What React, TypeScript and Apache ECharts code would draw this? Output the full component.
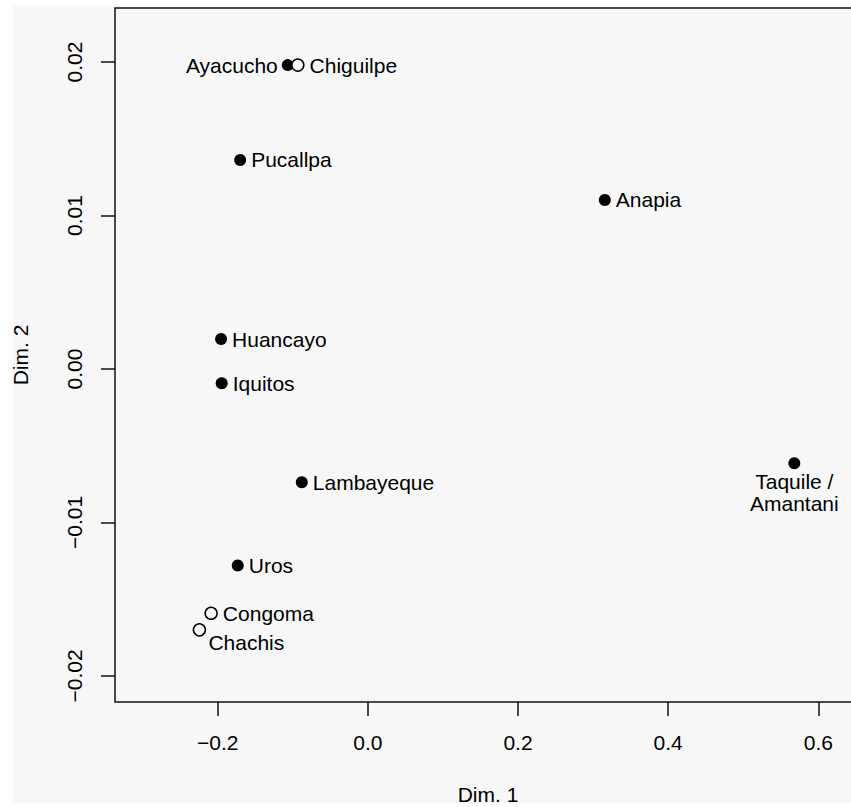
import React, { useEffect, useRef } from "react";
import * as echarts from "echarts";

const siteNames = [
  "Ayacucho",
  "Chiguilpe",
  "Pucallpa",
  "Anapia",
  "Huancayo",
  "Iquitos",
  "Lambayeque",
  "Taquile /\nAmantani",
  "Uros",
  "Congoma",
  "Chachis",
];
const dim1 = [-0.1067, -0.0933, -0.1701, 0.3156, -0.1955, -0.1947, -0.088, 0.568, -0.1733, -0.2088, -0.2244];
const dim2 = [0.0198, 0.0198, 0.01362, 0.01101, 0.00195, -0.00093, -0.00738, -0.00614, -0.01281, -0.01592, -0.017];
const filled = [true, false, true, true, true, true, true, true, true, false, false];
const labelSide = ["left", "right", "right", "right", "right", "right", "right", "bottom", "right", "right", "belowRight"];
const xTicks = [-0.2, 0, 0.2, 0.4, 0.6];
const yTicks = [-0.02, -0.01, 0, 0.01, 0.02];

const FONT = "'Liberation Sans', Arial, Helvetica, sans-serif";
const INK = "#111";
const BG = "#f7f7f7";

const fmt = (v: number, d: number) => (v < 0 ? "\u2212" : "") + Math.abs(v).toFixed(d);

function labelFor(side: string) {
  const base: any = { show: true, color: "#000", fontFamily: FONT, fontSize: 21, formatter: "{b}" };
  if (side === "left") return { ...base, position: "left", distance: 4 };
  if (side === "right") return { ...base, position: "right", distance: 5 };
  if (side === "bottom") return { ...base, position: "bottom", distance: 1, lineHeight: 22, align: "center" };
  return { ...base, position: "bottom", distance: 0, align: "left", verticalAlign: "middle", offset: [9, 6] };
}

export default function App() {
  const ref = useRef<HTMLDivElement>(null);
  useEffect(() => {
    if (!ref.current) return;
    const chart = echarts.init(ref.current, undefined, { renderer: "svg" });
    const data = siteNames.map((n, i) => ({
      name: n,
      value: [dim1[i], dim2[i]],
      symbolSize: 12,
      itemStyle: filled[i]
        ? { color: "#000", borderWidth: 0, opacity: 1 }
        : { color: BG, borderColor: "#000", borderWidth: 1.5, opacity: 1 },
      label: labelFor(labelSide[i]),
    }));
    chart.setOption({
      animation: false,
      backgroundColor: BG,
      graphic: {
        elements: [
          { type: "rect", shape: { x: 0, y: 0, width: 851, height: 6 }, style: { fill: "#fff" }, silent: true },
          { type: "rect", shape: { x: 0, y: 0, width: 13, height: 807 }, style: { fill: "#fff" }, silent: true },
          { type: "rect", shape: { x: 0, y: 803, width: 851, height: 4 }, style: { fill: "#fff" }, z: 100, silent: true },
        ],
      },
      grid: {
        left: 115,
        top: 8,
        width: 746,
        height: 694,
        outerBoundsMode: "none",
        containLabel: false,
        show: true,
        backgroundColor: "transparent",
        borderColor: INK,
        borderWidth: 1.5,
      },
      xAxis: {
        type: "value",
        min: -0.3368,
        max: 0.6568,
        name: "Dim. 1",
        nameLocation: "middle",
        nameGap: 82,
        nameTextStyle: { fontFamily: FONT, fontSize: 21, color: "#000" },
        axisLine: { show: false, onZero: false },
        splitLine: { show: false },
        axisTick: { show: true, inside: false, length: 14, customValues: xTicks, lineStyle: { color: INK, width: 1.5 } },
        axisLabel: {
          customValues: xTicks,
          margin: 30,
          fontFamily: FONT,
          fontSize: 21,
          color: "#000",
          formatter: (v: number) => fmt(v, 1),
        },
      },
      yAxis: {
        type: "value",
        min: -0.0217,
        max: 0.02352,
        name: "Dim. 2",
        nameLocation: "middle",
        nameGap: 84,
        nameTextStyle: { fontFamily: FONT, fontSize: 21, color: "#000" },
        axisLine: { show: false, onZero: false },
        splitLine: { show: false },
        axisTick: { show: true, inside: false, length: 14, customValues: yTicks, lineStyle: { color: INK, width: 1.5 } },
        axisLabel: {
          customValues: yTicks,
          rotate: 90,
          margin: 30,
          fontFamily: FONT,
          fontSize: 21,
          color: "#000",
          formatter: (v: number) => fmt(v, 2),
        },
      },
      series: [
        {
          type: "scatter",
          data,
          symbol: "circle",
          z: 5,
        },
      ],
    });
    return () => chart.dispose();
  }, []);
  return <div ref={ref} style={{ position: "absolute", left: 0, top: 0, width: 851, height: 807 }} />;
}
